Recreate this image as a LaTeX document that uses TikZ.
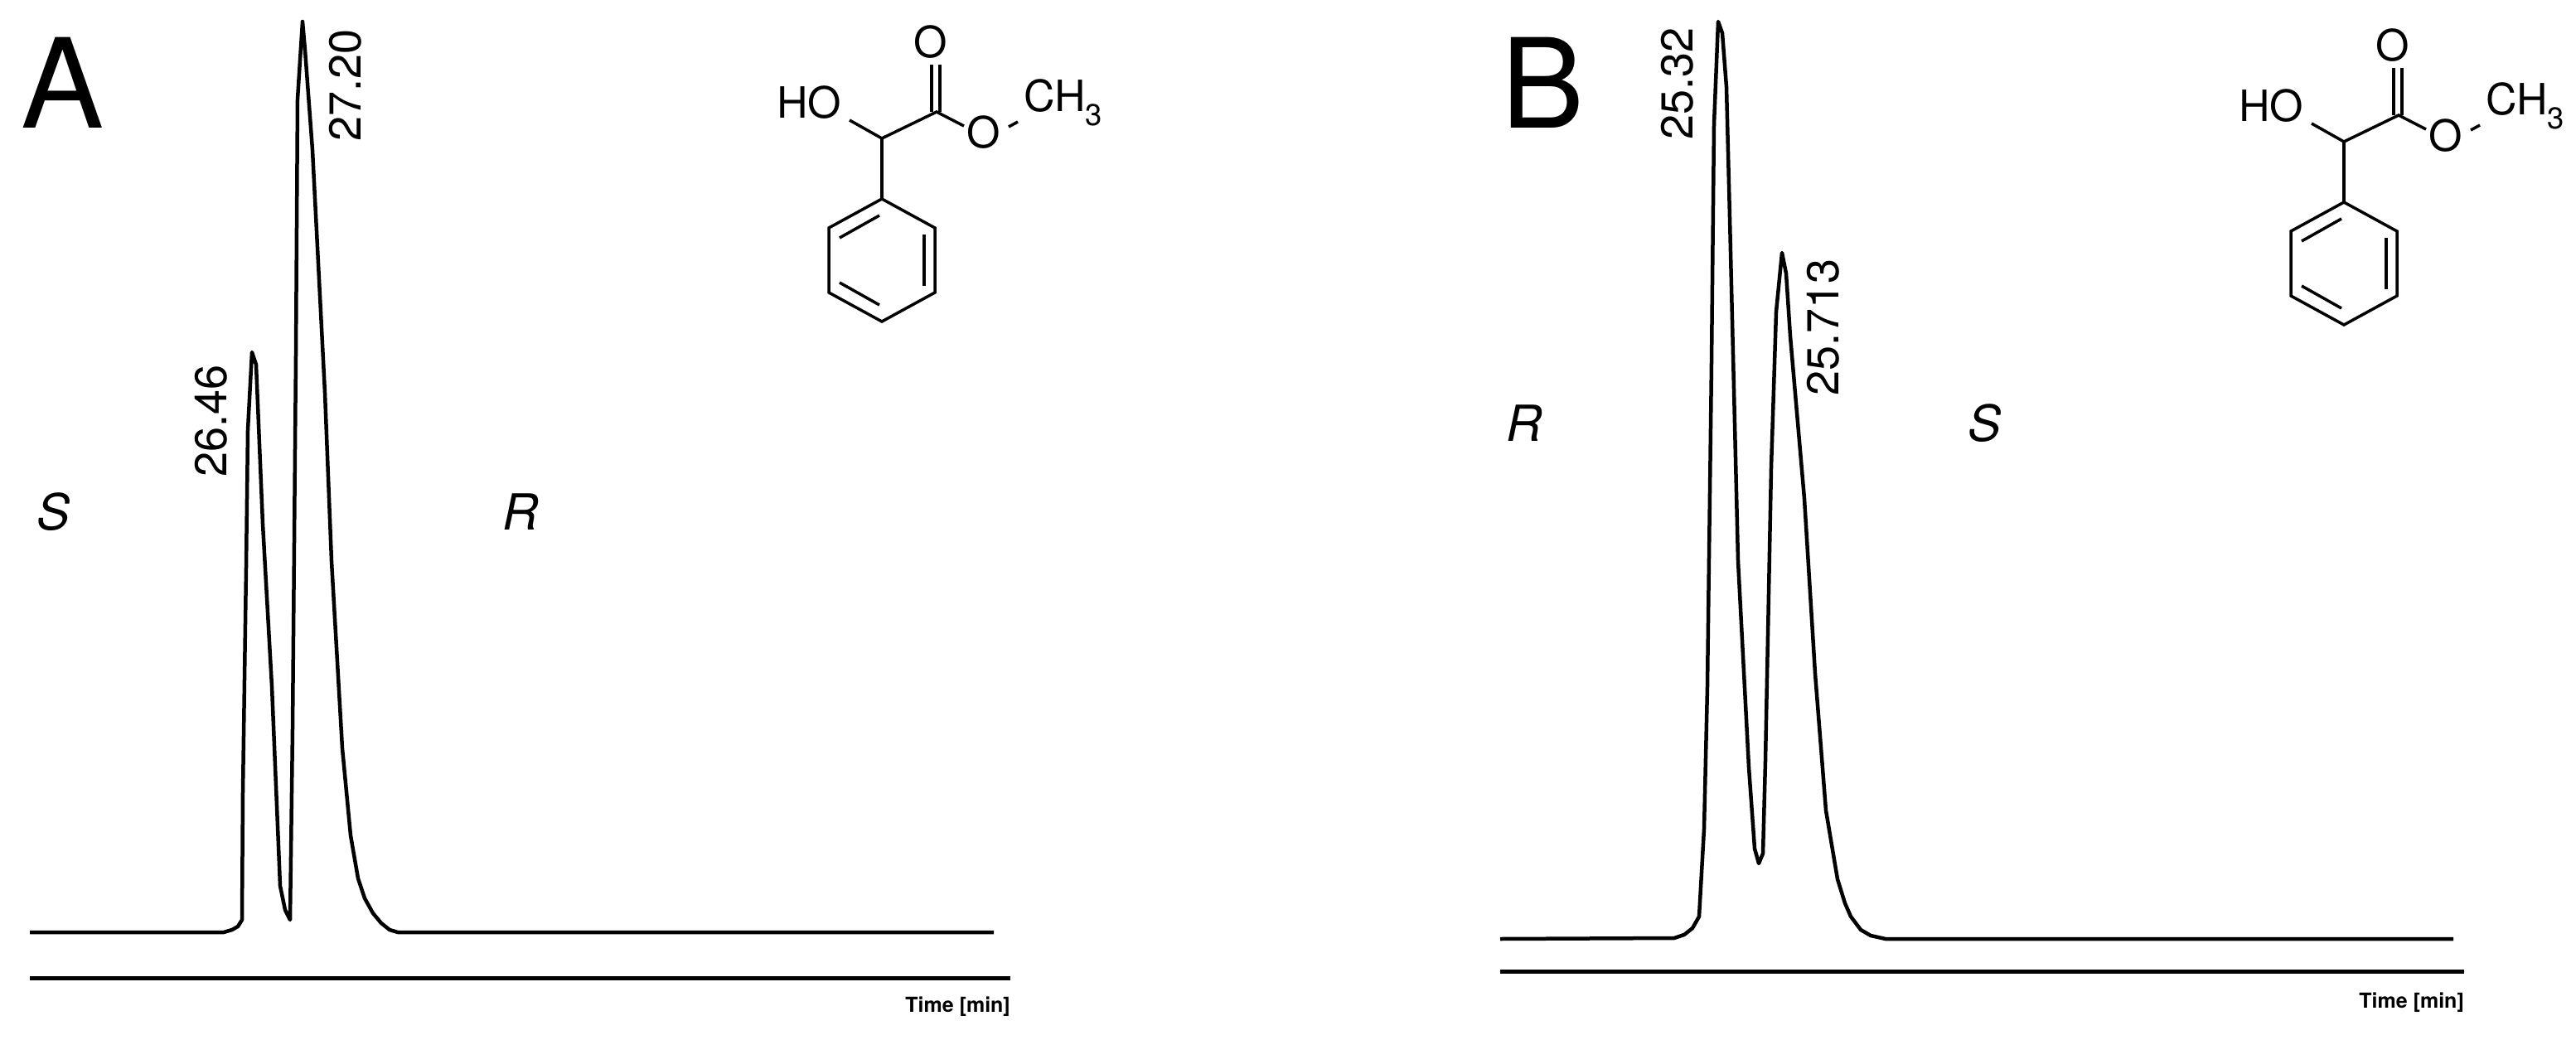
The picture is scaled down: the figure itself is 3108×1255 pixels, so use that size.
\documentclass[tikz,border=0pt]{standalone}
\usepackage{fontspec}
\setmainfont{TeX Gyre Heros}
\begin{document}
\begin{tikzpicture}[x=1pt,y=-1pt,
  trace/.style={line width=4.5pt,line join=round},
  axisline/.style={line width=5pt},
  bond/.style={line width=3.5pt},
  rt/.style={font=\fontsize{54}{54}\selectfont,inner sep=0pt,rotate=90},
  en/.style={font=\fontsize{60}{60}\selectfont\itshape,inner sep=0pt},
  panel/.style={font=\fontsize{150}{150}\selectfont,inner sep=0pt},
  tm/.style={font=\fontsize{25}{25}\selectfont\bfseries,inner sep=0pt},
  atom/.style={font=\fontsize{52}{52}\selectfont,inner sep=0pt}]
\useasboundingbox (0,0) rectangle (3108,1255);
% ---- molecule
\newcommand{\mymol}{%
  \node[atom] (ho) at (976,124) {HO};
  \node[atom] (oc) at (1123,51) {O};
  \node[atom] (oe) at (1187,160) {O};
  \node[atom,anchor=west] (me) at (1235,124) {CH\textsubscript{3}};
  \coordinate (ca) at (1064,167);
  \coordinate (cc) at (1130,135);
  \draw[bond] (1025,145) -- (ca) -- (cc) -- (1163,152);
  \draw[bond] (1217,153) -- (1228,147);
  \draw[bond] (1124,78) -- (1124,135);
  \draw[bond] (1134,78) -- (1134,135);
  \draw[bond] (ca) -- (1064,240);
  \draw[bond] (1064,240) -- (1128,275) -- (1128,353) -- (1064,388) -- (1000,353) -- (1000,275) -- cycle;
  \draw[bond] (1013,287) -- (1061,260);
  \draw[bond] (1115,283) -- (1115,345);
  \draw[bond] (1013,341) -- (1061,368);
}
% ---------- Panel A
\node[panel] (pa) at (76,100) {A};
\mymol
\draw[axisline] (36,1180) -- (1219,1180);
\node[tm,anchor=east] (ta) at (1219,1215) {Time [min]};
\draw[trace] plot coordinates {(36,1125) (270,1125) (280,1122) (287,1118) (292,1110) (293,956) (297,685) (299,519) (304,425) (309,440) (317,632) (328,828) (338,1069) (344,1098) (350,1110) (353,880) (357,429) (359,120) (365,26) (368,60) (377,181) (392,474) (400,677) (413,903) (423,1008) (432,1060) (440,1084) (450,1102) (460,1114) (470,1122) (480,1125) (1199,1125)};
\node[rt] (a1) at (255,508) {26.46};
\node[rt] (a2) at (417,103) {27.20};
\node[en] (sa) at (65,618) {S};
\node[en] (ra) at (628,618) {R};
% ---------- Panel B
\node[panel] (pb) at (1862,100) {B};
\begin{scope}[shift={(1764,4)}]\mymol\end{scope}
\draw[axisline] (1810,1172) -- (2973,1172);
\node[tm,anchor=east] (tb) at (2973,1210) {Time [min]};
\draw[trace] plot coordinates {(1810,1133) (2020,1132) (2032,1128) (2042,1120) (2050,1106) (2056,1000) (2060,828) (2065,437) (2068,150) (2073,26) (2078,40) (2083,105) (2087,263) (2097,677) (2110,926) (2117,1024) (2122,1042) (2127,1030) (2130,918) (2137,564) (2143,376) (2150,305) (2155,330) (2160,406) (2177,602) (2190,813) (2203,978) (2217,1061) (2226,1090) (2233,1106) (2245,1122) (2257,1129) (2275,1133) (2960,1133)};
\node[rt] (b1) at (2024,101) {25.32};
\node[rt] (b2) at (2200,395) {25.713};
\node[en] (rb) at (1839,511) {R};
\node[en] (sb) at (2394,511) {S};
\end{tikzpicture}
\end{document}
